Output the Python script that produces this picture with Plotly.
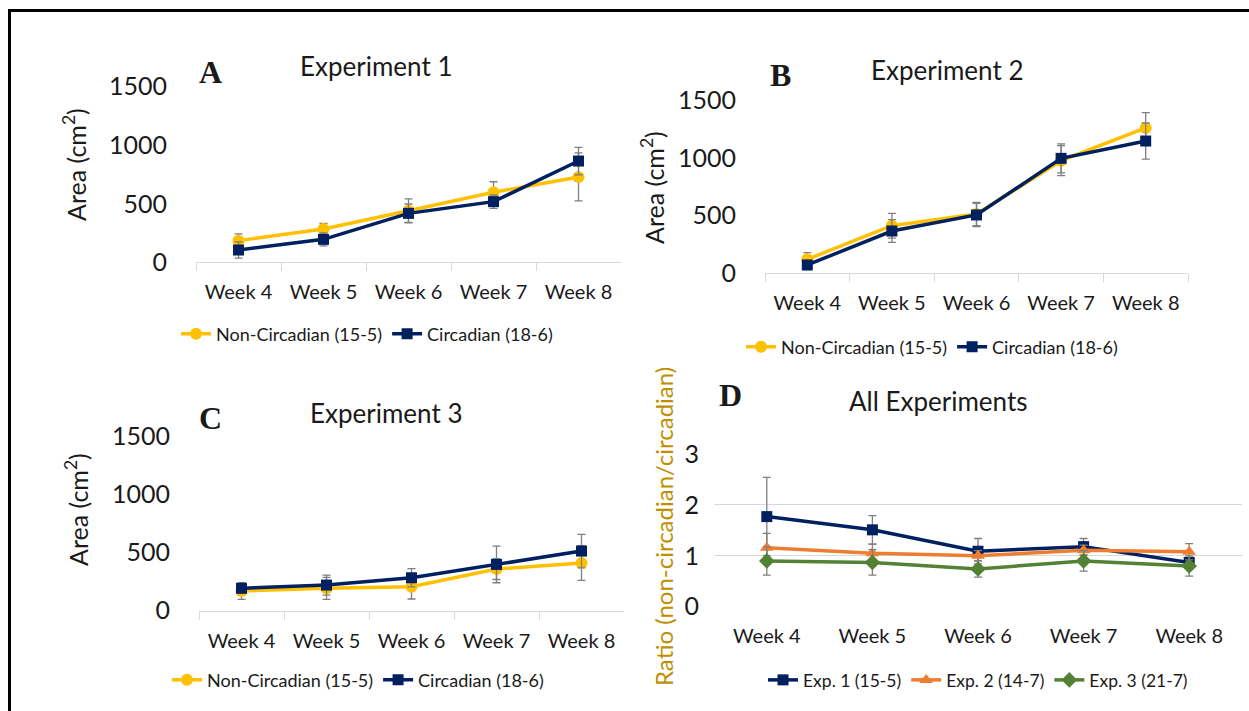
import plotly.graph_objects as go

W, H = 1249, 711

weeks = ["Week 4", "Week 5", "Week 6", "Week 7", "Week 8"]

exp1_nc = [185, 285, 441, 598, 729]
exp1_nc_err = [57, 48, 100, 90, 205]
exp1_c = [105, 196, 418, 518, 865]
exp1_c_err = [70, 56, 80, 57, 117]

exp2_nc = [121, 412, 513, 975, 1258]
exp2_nc_err = [58, 107, 100, 130, 132]
exp2_c = [72, 366, 505, 995, 1145]
exp2_c_err = [40, 98, 100, 125, 156]

exp3_nc = [170, 193, 207, 359, 411]
exp3_nc_err = [72, 95, 106, 90, 150]
exp3_c = [193, 221, 284, 399, 514]
exp3_c_err = [40, 86, 78, 158, 144]

ratio1 = [1.77, 1.51, 1.09, 1.18, 0.87]
ratio1_err = [0.77, 0.28, 0.25, 0.16, 0.10]
ratio2 = [1.16, 1.05, 1.00, 1.11, 1.08]
ratio2_err = [0.28, 0.18, 0.10, 0.10, 0.16]
ratio3 = [0.90, 0.87, 0.74, 0.90, 0.80]
ratio3_err = [0.28, 0.25, 0.16, 0.20, 0.20]

nc_name = "Non-Circadian (15-5)"
c_name = "Circadian (18-6)"
d_names = ["Exp. 1 (15-5)", "Exp. 2 (14-7)", "Exp. 3 (21-7)"]

YELLOW = "#FFC000"
NAVY = "#002060"
ORANGE = "#ED7D31"
GREEN = "#548235"
ERR = "#7F7F7F"
FONT = "Lato, Open Sans, sans-serif"
TXT = "#1a1a1a"


def px(x):
    return x / W


def py(y):
    return 1 - y / H


fig = go.Figure()


def add(xa, ya, y, err, name, color, symbol, size, legend):
    fig.add_trace(go.Scatter(
        x=weeks, y=y, name=name, mode="lines+markers",
        xaxis=xa, yaxis=ya, legend=legend,
        line=dict(color=color, width=3.5),
        marker=dict(color=color, symbol=symbol, size=size),
        error_y=dict(type="data", array=err, visible=True,
                     color=ERR, thickness=1.3, width=4),
        cliponaxis=False,
    ))


add("x", "y", exp1_nc, exp1_nc_err, nc_name, YELLOW, "circle", 12, "legend")
add("x", "y", exp1_c, exp1_c_err, c_name, NAVY, "square", 11, "legend")
add("x2", "y2", exp2_nc, exp2_nc_err, nc_name, YELLOW, "circle", 12, "legend2")
add("x2", "y2", exp2_c, exp2_c_err, c_name, NAVY, "square", 11, "legend2")
add("x3", "y3", exp3_nc, exp3_nc_err, nc_name, YELLOW, "circle", 12, "legend3")
add("x3", "y3", exp3_c, exp3_c_err, c_name, NAVY, "square", 11, "legend3")
add("x4", "y4", ratio1, ratio1_err, d_names[0], NAVY, "square", 11, "legend4")
add("x4", "y4", ratio2, ratio2_err, d_names[1], ORANGE, "triangle-up", 12, "legend4")
add("x4", "y4", ratio3, ratio3_err, d_names[2], GREEN, "diamond", 12, "legend4")

panels = {
    # name: (x0, x1, y_zero_px, y_top_px, ymax)
    "1": (196, 621, 262.3, 86.7, 1500),
    "2": (765, 1188, 273.3, 100, 1500),
    "3": (199, 624, 610.7, 436.7, 1500),
    "4": (714, 1242, 606.7, 454, 3),
}

layout = dict(
    width=W, height=H,
    margin=dict(l=0, r=0, t=0, b=0, pad=0, autoexpand=False),
    paper_bgcolor="white", plot_bgcolor="rgba(0,0,0,0)",
    font=dict(family=FONT, color=TXT),
)

for k, (x0, x1, y0, y1, ymax) in panels.items():
    xn = "xaxis" if k == "1" else "xaxis" + k
    yn = "yaxis" if k == "1" else "yaxis" + k
    anchor_y = "y" if k == "1" else "y" + k
    anchor_x = "x" if k == "1" else "x" + k
    if k != "4":
        layout[xn] = dict(
            domain=[px(x0), px(x1)], anchor=anchor_y, type="category",
            range=[-0.5, len(weeks) - 0.5],
            showline=True, linecolor="#D9D9D9", linewidth=1,
            ticks="outside", tickson="boundaries", ticklen=8,
            tickcolor="#D9D9D9", tickwidth=1,
            tickfont=dict(size=20, color=TXT), ticklabelstandoff=12,
            showgrid=False, zeroline=False, fixedrange=True, automargin=False,
        )
        layout[yn] = dict(
            domain=[py(y0), py(y1)], anchor=anchor_x, range=[0, ymax],
            tickvals=[0, 500, 1000, 1500], showgrid=False, zeroline=False,
            showline=False, tickfont=dict(size=25, color=TXT),
            ticklabelstandoff=28, fixedrange=True, automargin=False,
        )
    else:
        layout[xn] = dict(
            domain=[px(x0), px(x1)], anchor=anchor_y, type="category",
            range=[-0.5, len(weeks) - 0.5],
            showline=False, ticks="", showgrid=False, zeroline=False,
            tickfont=dict(size=20, color=TXT), ticklabelstandoff=15,
            fixedrange=True, automargin=False,
        )
        layout[yn] = dict(
            domain=[py(y0), py(y1)], anchor=anchor_x, range=[0, ymax],
            tickvals=[0, 1, 2, 3], showgrid=True, gridcolor="#D9D9D9",
            gridwidth=1, zeroline=False, showline=False,
            tickfont=dict(size=25, color=TXT), ticklabelstandoff=14,
            fixedrange=True, automargin=False,
        )

leg_common = dict(orientation="h", xanchor="left", yanchor="middle",
                  font=dict(size=18, color=TXT), itemwidth=30,
                  bgcolor="rgba(0,0,0,0)", tracegroupgap=0)
layout["legend"] = dict(x=px(176), y=py(334), **leg_common)
layout["legend2"] = dict(x=px(741), y=py(347), **leg_common)
layout["legend3"] = dict(x=px(167), y=py(680), **leg_common)
layout["legend4"] = dict(x=px(763), y=py(680), **dict(leg_common, font=dict(size=17.5, color=TXT)))

fig.update_layout(**layout)

ann = []


def text(x, y, s, size, font=FONT, color=TXT, angle=0):
    ann.append(dict(x=px(x), y=py(y), xref="paper", yref="paper", text=s,
                    showarrow=False, xanchor="center", yanchor="middle",
                    font=dict(size=size, family=font, color=color),
                    textangle=angle))


SERIF = "Liberation Serif, Times New Roman, serif"
text(210, 72, "<b>A</b>", 32, SERIF)
text(780, 75, "<b>B</b>", 32, SERIF)
text(210, 418, "<b>C</b>", 32, SERIF)
text(730, 395, "<b>D</b>", 32, SERIF)
text(376, 66, "Experiment 1", 26)
text(947, 70, "Experiment 2", 26)
text(386, 413, "Experiment 3", 26)
text(938, 401, "All Experiments", 26)
text(74, 165, "Area (cm<sup>2</sup>)", 25, angle=-90)
text(652, 188, "Area (cm<sup>2</sup>)", 25, angle=-90)
text(76, 510, "Area (cm<sup>2</sup>)", 25, angle=-90)
text(663, 527, "Ratio (non-circadian/circadian)", 24, color="#BF8F00", angle=-90)

fig.update_layout(annotations=ann)

# frame around the figure
fig.add_shape(type="line", xref="paper", yref="paper",
              x0=px(8), x1=1, y0=py(10.5), y1=py(10.5),
              line=dict(color="black", width=3))
fig.add_shape(type="line", xref="paper", yref="paper",
              x0=px(9.5), x1=px(9.5), y0=py(9), y1=0,
              line=dict(color="black", width=3))

fig.write_html(
    "out.html",
    post_script="document.body.style.margin='0';document.body.style.padding='0';document.body.style.overflow='hidden';",
)
